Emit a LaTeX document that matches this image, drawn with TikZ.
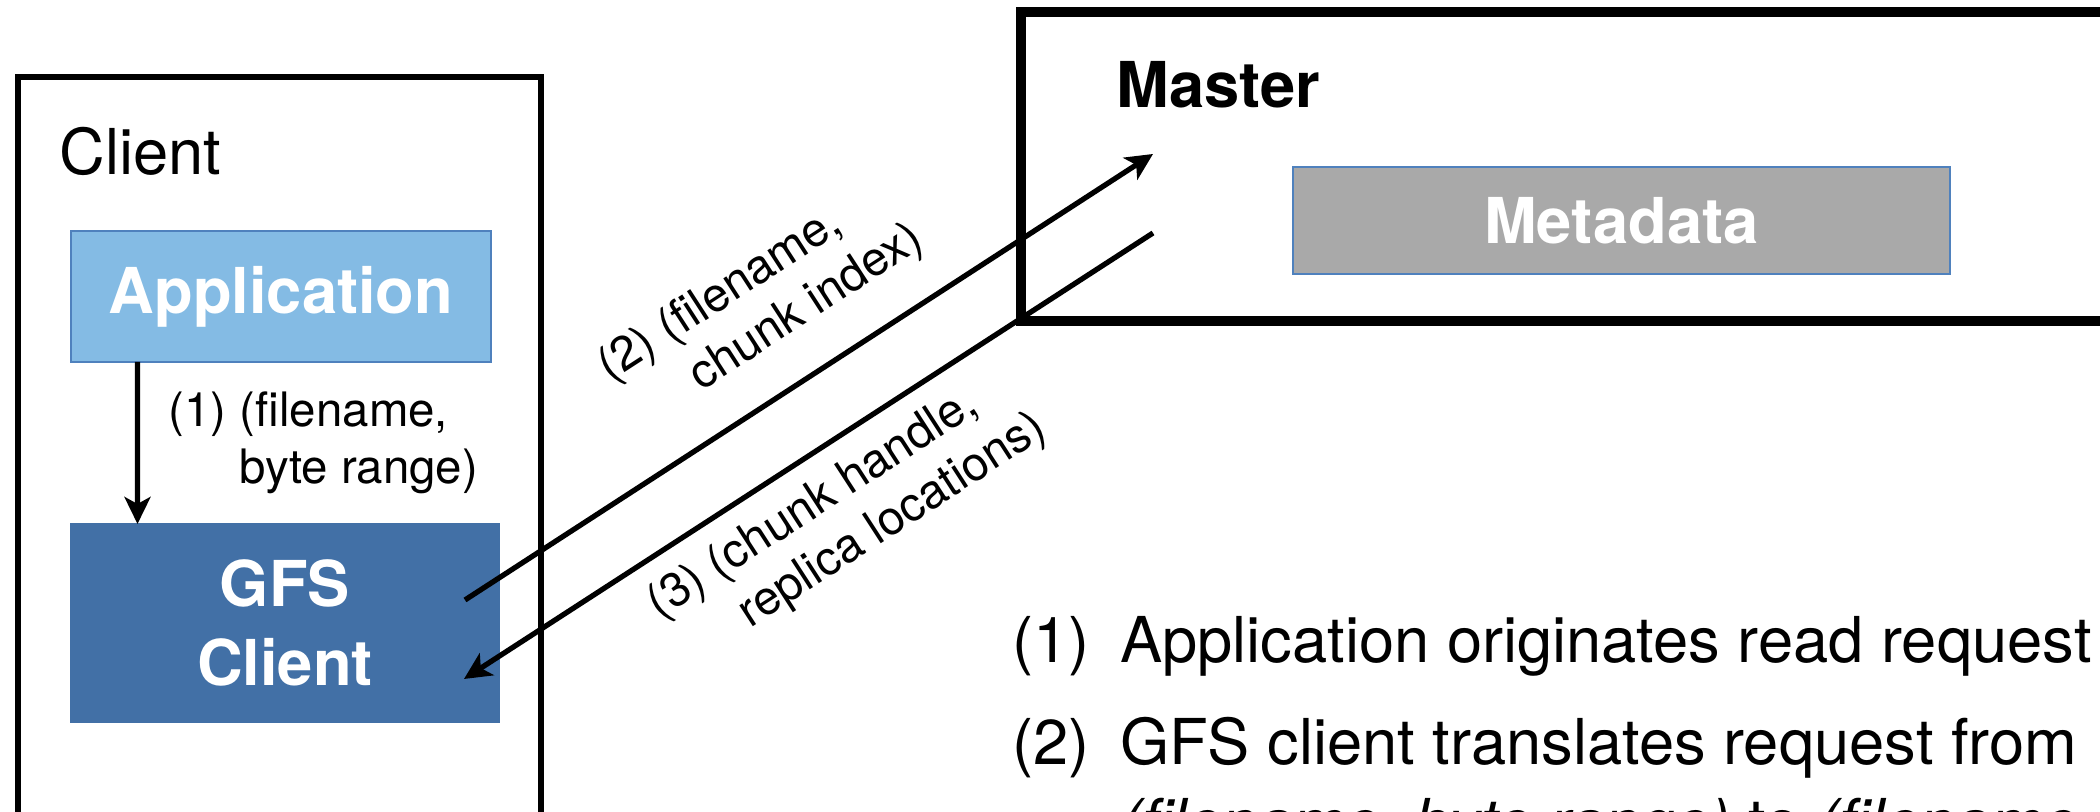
\documentclass[tikz,border=0pt]{standalone}
\usepackage{fontspec}
\setmainfont{TeX Gyre Heros}
\usetikzlibrary{arrows.meta}
\definecolor{appblue}{RGB}{132,187,228}
\definecolor{gfsblue}{RGB}{66,112,166}
\definecolor{metagray}{RGB}{169,169,169}
\definecolor{edgeblue}{RGB}{79,129,189}
\tikzset{
  fillbox/.style={draw=edgeblue, line width=0.5pt, inner sep=0, outer sep=0, text=white,
    font=\fontsize{18}{22.6}\selectfont\bfseries, align=center},
  outerbox/.style={draw=black, inner sep=0, outer sep=0},
  arr/.style={-{Stealth[length=0.27cm,width=0.26cm,inset=0.07cm]}, line width=1.5pt},
  lbl/.style={font=\fontsize{13.5}{16.2}\selectfont, align=left, inner sep=0},
  title/.style={anchor=base west, inner sep=0, font=\fontsize{18}{22}\selectfont},
}
\begin{document}
\begin{tikzpicture}
    \useasboundingbox (0,0) rectangle (21,8.12);
    \clip (0,0) rectangle (21,8.12);

    \node[outerbox, line width=1.6pt, minimum width=5.23cm, minimum height=7.6cm, anchor=north west] (client) at (0.18,7.35) {};
    \node[title] (clientlbl) at (0.59,6.37) {Client};
    \node[fillbox, fill=appblue, minimum width=4.2cm, minimum height=1.31cm] (app) at (2.81,5.155) {Application};
    \node[fillbox, fill=gfsblue, draw=gfsblue, minimum width=4.28cm, minimum height=1.98cm] (gfs) at (2.85,1.89) {GFS\\Client};

    \node[outerbox, line width=2.85pt, minimum width=11cm, minimum height=3.09cm, anchor=north west] (master) at (10.21,8.00) {};
    \node[title, font=\fontsize{18}{22}\selectfont\bfseries] (masterlbl) at (11.16,7.04) {Master};
    \node[fillbox, fill=metagray, minimum width=6.57cm, minimum height=1.07cm] (meta) at (16.215,5.915) {Metadata};

    \coordinate (g2) at ([shift={(-0.34,0.23)}]gfs.east);
    \coordinate (g3) at ([shift={(-0.35,-0.56)}]gfs.east);
    \coordinate (m2) at ([shift={(1.32,0.125)}]master.west);
    \coordinate (m3) at ([shift={(1.32,-0.665)}]master.west);

    \draw[arr] ([xshift=0.665cm]app.south west) -- node[lbl, midway, right=0.285cm] {(1) (filename,\\\phantom{(1) }byte range)} ([xshift=0.665cm]gfs.north west);
    \draw[arr] (g2) -- node[lbl, sloped, midway, above=0.34cm] {(2) (filename,\\\phantom{(2) }chunk index)} (m2);
    \draw[arr] (m3) -- node[lbl, sloped, midway, below=0.19cm] {(3) (chunk handle,\\\phantom{(3) }replica locations)} (g3);

    \node[anchor=base west, inner sep=0, font=\fontsize{18}{22.8}\selectfont] (steps) at (10.12,1.49) {\begin{tabular}[t]{@{}l@{\hspace{0.3cm}}l@{}}
      (1) & Application originates read request\\[6pt]
      (2) & GFS client translates request from\\
          & \textit{(filename, byte range)} to \textit{(filename, chunk index)}
    \end{tabular}};
\end{tikzpicture}
\end{document}
